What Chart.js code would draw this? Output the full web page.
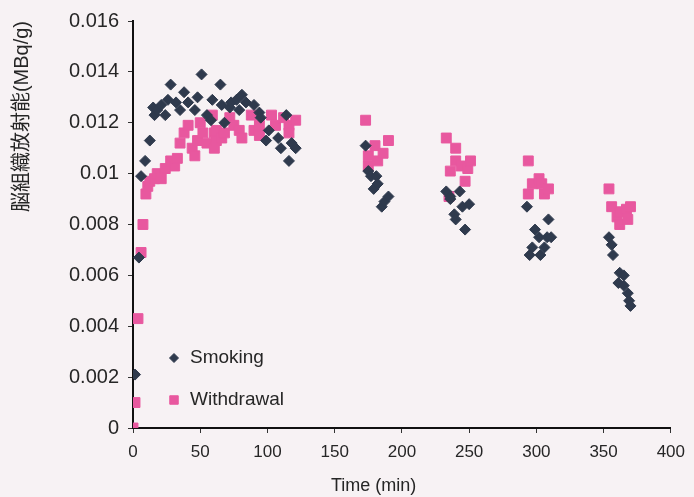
<!DOCTYPE html>
<html>
<head>
<meta charset="utf-8">
<script src="https://cdn.jsdelivr.net/npm/chart.js@4.4.0/dist/chart.umd.min.js"></script>
<style>
  html, body { margin: 0; padding: 0; background: #f7f2f4; }
  #wrap { width: 694px; height: 497px; }
</style>
</head>
<body>
<div id="wrap"><canvas id="chart"></canvas></div>
<script>
// values
const smokingTime = [1.5, 4.4, 6, 9, 12.5, 15, 16, 18, 21, 24, 26, 28, 32, 35, 38, 41, 46, 48, 51, 55, 58, 59,
  65, 66, 68, 72, 73, 77, 79, 81, 84, 90, 94, 95, 99, 101, 108, 110, 114, 116, 118, 121,
  173, 175, 177, 179, 181, 182, 185, 187, 190,
  233, 236, 236, 239, 240, 243, 245, 247, 250,
  293, 295, 297, 299, 302, 303, 306, 308, 309, 311,
  354, 356, 357, 361, 362, 365, 365, 368, 369, 370];
const smokingValue = [0.0021, 0.0067, 0.0099, 0.0105, 0.0113, 0.0126, 0.0123, 0.0125, 0.0127, 0.0123, 0.0129, 0.0135, 0.0128, 0.0125, 0.0132, 0.0128, 0.0125, 0.0130, 0.0139, 0.0123, 0.0121, 0.0129,
  0.0135, 0.0127, 0.0120, 0.0126, 0.0128, 0.0129, 0.0125, 0.0131, 0.0128, 0.0127, 0.0124, 0.0122, 0.0113, 0.0117, 0.0114, 0.0110, 0.0123, 0.0105, 0.0112, 0.0110,
  0.0111, 0.0101, 0.0099, 0.0094, 0.0099, 0.0096, 0.0087, 0.0089, 0.0091,
  0.0093, 0.0091, 0.0090, 0.0084, 0.0082, 0.0093, 0.0087, 0.0078, 0.0088,
  0.0087, 0.0068, 0.0071, 0.0078, 0.0075, 0.0068, 0.0071, 0.0075, 0.0082, 0.0075,
  0.0075, 0.0072, 0.0068, 0.0057, 0.0061, 0.0060, 0.0056, 0.0053, 0.0050, 0.0048];

const withdrawalTime = [0, 1.5, 3.7, 6, 7.4, 9.6, 11, 12.5, 16, 18, 21, 24, 28, 31, 33, 35, 38, 41, 44, 46, 48, 50, 52, 55,
  59, 60.5, 60.5, 62, 62, 66, 68, 72, 75, 79, 81, 88, 90, 94, 94, 103, 106, 112, 116, 116, 121,
  173, 175, 175, 180, 182, 186, 190,
  233, 235, 236, 240, 240, 244, 247, 249, 251,
  294, 294, 297, 302, 304, 306, 309,
  354, 356, 360, 362, 362, 367, 368, 370];
const withdrawalValue = [0, 0.0010, 0.0043, 0.0069, 0.0080, 0.0092, 0.0095, 0.0097, 0.0098, 0.0100, 0.0098, 0.0102, 0.0105, 0.0103, 0.0106, 0.0112, 0.0116, 0.0119, 0.0110, 0.0107, 0.0113, 0.0120, 0.0116, 0.0112,
  0.0123, 0.0116, 0.0110, 0.0117, 0.0113, 0.0114, 0.0116, 0.0122, 0.0119, 0.0117, 0.0114, 0.0123, 0.0117, 0.0119, 0.0115, 0.0123, 0.0119, 0.0122, 0.0119, 0.0116, 0.0121,
  0.0121, 0.0107, 0.0103, 0.0111, 0.0105, 0.0108, 0.0113,
  0.0114, 0.0091, 0.0101, 0.0110, 0.0105, 0.0103, 0.0097, 0.0102, 0.0105,
  0.0105, 0.0092, 0.0096, 0.0098, 0.0096, 0.0092, 0.0094,
  0.0094, 0.0087, 0.0083, 0.0085, 0.0080, 0.0086, 0.0082, 0.0087];

const seriesNames = ['Smoking', 'Withdrawal'];
const xTicks = [0, 50, 100, 150, 200, 250, 300, 350, 400];
const yTicks = [0, 0.002, 0.004, 0.006, 0.008, 0.01, 0.012, 0.014, 0.016];
const xTitle = 'Time (min)';
const yTitle = '脳組織放射能(MBq/g)';

const toPoints = (xs, ys) => xs.map((x, i) => ({ x: x, y: ys[i] }));

const textColor = '#262626';
const fontFamily = '"Liberation Sans", "Noto Sans CJK JP", sans-serif';

// legend sits inside the plot, lower left
const insideLegend = {
  id: 'insideLegend',
  afterDatasetsDraw(chart) {
    const { ctx, chartArea } = chart;
    chart.data.datasets.forEach((ds, i) => {
      const x = chartArea.left + 41;
      const y = chartArea.bottom - 70 + i * 42;
      ctx.save();
      ctx.fillStyle = ds.backgroundColor;
      ctx.strokeStyle = ds.borderColor;
      ctx.lineWidth = 1;
      Chart.helpers.drawPoint(ctx, {
        pointStyle: ds.pointStyle,
        radius: ds.legendRadius,
        rotation: 0,
        borderWidth: 1
      }, x, y);
      ctx.fillStyle = textColor;
      ctx.font = '19px ' + fontFamily;
      ctx.textBaseline = 'middle';
      ctx.textAlign = 'left';
      ctx.fillText(ds.label, x + 16, y);
      ctx.restore();
    });
  }
};

// x axis title sits a little left of centre in the original
const xAxisTitle = {
  id: 'xAxisTitle',
  afterDraw(chart) {
    const { ctx } = chart;
    const xs = chart.scales.x;
    ctx.save();
    ctx.fillStyle = textColor;
    ctx.font = '18px ' + fontFamily;
    ctx.textAlign = 'center';
    ctx.textBaseline = 'middle';
    ctx.fillText(xTitle, xs.getPixelForValue(179), 486);
    ctx.restore();
  }
};

new Chart(document.getElementById('chart'), {
  type: 'scatter',
  data: {
    datasets: [
      {
        label: seriesNames[0],
        data: toPoints(smokingTime, smokingValue),
        pointStyle: 'rectRot',
        pointRadius: 5.5,
        legendRadius: 4.5,
        backgroundColor: '#2f3a4d',
        borderColor: '#2f3a4d',
        borderWidth: 1
      },
      {
        label: seriesNames[1],
        data: toPoints(withdrawalTime, withdrawalValue),
        pointStyle: 'rect',
        pointRadius: 7,
        legendRadius: 6,
        backgroundColor: '#e8589f',
        borderColor: '#e8589f',
        borderWidth: 1
      }
    ]
  },
  options: {
    responsive: true,
    maintainAspectRatio: false,
    animation: false,
    layout: { padding: { top: 18, right: 19, left: 0, bottom: 0 } },
    plugins: {
      legend: { display: false },
      tooltip: { enabled: false }
    },
    scales: {
      x: {
        type: 'linear',
        min: 0,
        max: 400,
        afterBuildTicks: (s) => { s.ticks = xTicks.map(v => ({ value: v })); },
        afterFit: (s) => { s.height = 69; },
        ticks: { color: textColor, font: { family: fontFamily, size: 17 }, padding: 9, maxRotation: 0 },
        grid: { drawOnChartArea: false, drawTicks: true, tickLength: 5, color: '#333' },
        border: { color: '#111', width: 2 }
      },
      y: {
        type: 'linear',
        min: 0,
        max: 0.016,
        afterBuildTicks: (s) => { s.ticks = yTicks.map(v => ({ value: v })); },
        afterFit: (s) => { s.width = 133; },
        ticks: {
          color: textColor,
          font: { family: fontFamily, size: 20 },
          padding: 9,
          callback: (v) => String(+v.toFixed(3))
        },
        grid: { drawOnChartArea: false, drawTicks: true, tickLength: 5, color: '#333' },
        border: { color: '#111', width: 2 },
        title: {
          display: true,
          text: yTitle,
          align: 'end',
          color: textColor,
          font: { family: fontFamily, size: 20 },
          padding: { top: 10, bottom: 0 }
        }
      }
    }
  },
  plugins: [insideLegend, xAxisTitle]
});
</script>
</body>
</html>
